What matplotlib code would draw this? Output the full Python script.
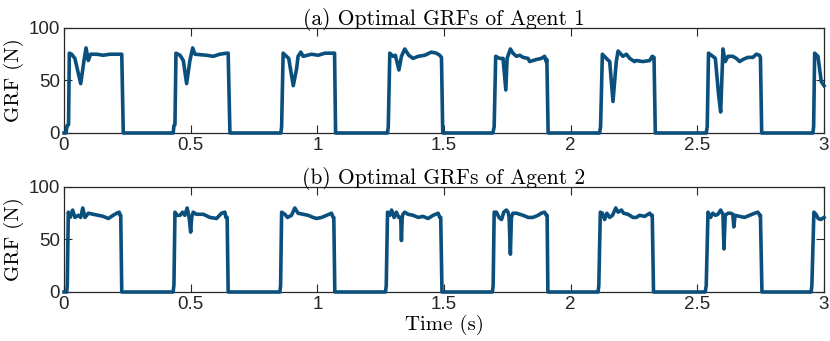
import matplotlib
matplotlib.use("Agg")
import matplotlib.pyplot as plt

# ---- data: (time [s], GRF [N]) breakpoints ----
t_agent1 = [
    0.000, 0.008, 0.012, 0.018, 0.021, 0.030, 0.043, 0.066, 0.079, 0.087, 0.096, 0.105,
    0.129, 0.155, 0.181, 0.221, 0.228, 0.234,
    0.431, 0.434, 0.438, 0.442, 0.458, 0.471, 0.484, 0.497, 0.508, 0.517, 0.563, 0.589,
    0.615, 0.642, 0.648, 0.655,
    0.856, 0.859, 0.865, 0.878, 0.887, 0.905, 0.918, 0.924, 0.935, 0.944, 0.977, 1.003,
    1.030, 1.062, 1.068, 1.072,
    1.277, 1.280, 1.286, 1.299, 1.308, 1.322, 1.332, 1.345, 1.361, 1.378, 1.398, 1.424,
    1.450, 1.470, 1.483, 1.490, 1.495,
    1.693, 1.698, 1.704, 1.720, 1.733, 1.744, 1.749, 1.762, 1.772, 1.786, 1.799, 1.812,
    1.832, 1.838, 1.865, 1.884, 1.897, 1.903, 1.906, 1.911,
    2.114, 2.118, 2.125, 2.141, 2.154, 2.167, 2.180, 2.187, 2.206, 2.220, 2.233, 2.252,
    2.259, 2.285, 2.312, 2.322, 2.329, 2.334,
    2.535, 2.539, 2.544, 2.561, 2.571, 2.584, 2.592, 2.601, 2.610, 2.621, 2.640, 2.654,
    2.667, 2.680, 2.699, 2.719, 2.733, 2.745, 2.749, 2.754,
    2.956, 2.959, 2.963, 2.976, 2.989, 3.000,
]
f_agent1 = [
    0, 0, 7, 8, 76, 75, 71, 47, 69, 81, 69, 75,
    75, 74, 75, 75, 75, 0,
    0, 7, 8, 76, 74, 69, 47, 69, 81, 75, 74, 73,
    75, 76, 76, 0,
    0, 6, 76, 73, 71, 45, 61, 73, 77, 73, 75, 74,
    76, 76, 76, 0,
    0, 6, 76, 73, 74, 60, 73, 80, 74, 71, 73, 74,
    77, 76, 74, 72, 0,
    0, 6, 73, 71, 71, 41, 71, 80, 76, 73, 74, 72,
    71, 68, 70, 71, 73, 68, 70, 0,
    0, 6, 75, 71, 68, 30, 68, 78, 73, 75, 71, 68,
    69, 68, 69, 73, 72, 0,
    0, 6, 76, 73, 71, 36, 20, 80, 68, 73, 73, 71,
    68, 70, 72, 72, 75, 74, 72, 0,
    0, 6, 76, 73, 49, 45,
]

t_agent2 = [
    0.000, 0.011, 0.013, 0.017, 0.024, 0.034, 0.043, 0.056, 0.066, 0.074, 0.083, 0.096,
    0.116, 0.135, 0.155, 0.175, 0.194, 0.208, 0.218, 0.221, 0.224, 0.228,
    0.431, 0.434, 0.438, 0.447, 0.458, 0.468, 0.477, 0.486, 0.494, 0.500, 0.504, 0.510,
    0.523, 0.550, 0.576, 0.602, 0.622, 0.635, 0.639, 0.644, 0.648,
    0.852, 0.855, 0.859, 0.872, 0.882, 0.898, 0.911, 0.924, 0.944, 0.964, 0.983, 0.997,
    1.017, 1.036, 1.056, 1.062, 1.065, 1.069,
    1.269, 1.272, 1.277, 1.286, 1.293, 1.303, 1.312, 1.321, 1.329, 1.332, 1.335, 1.338,
    1.345, 1.358, 1.378, 1.398, 1.417, 1.437, 1.457, 1.477, 1.483, 1.487, 1.492,
    1.691, 1.694, 1.698, 1.707, 1.717, 1.727, 1.736, 1.746, 1.753, 1.757, 1.762, 1.766,
    1.772, 1.786, 1.799, 1.812, 1.832, 1.851, 1.871, 1.884, 1.897, 1.904, 1.907, 1.910,
    2.108, 2.111, 2.117, 2.125, 2.134, 2.143, 2.154, 2.165, 2.178, 2.187, 2.200, 2.209,
    2.226, 2.246, 2.259, 2.272, 2.292, 2.312, 2.318, 2.322, 2.327,
    2.531, 2.535, 2.542, 2.552, 2.561, 2.571, 2.581, 2.592, 2.601, 2.605, 2.610, 2.621,
    2.631, 2.640, 2.644, 2.649, 2.667, 2.686, 2.706, 2.726, 2.739, 2.746, 2.749, 2.755,
    2.949, 2.952, 2.960, 2.968, 2.977, 2.987, 3.000,
]
f_agent2 = [
    0, 0, 7, 76, 71, 78, 71, 73, 71, 80, 71, 75,
    74, 73, 72, 70, 73, 75, 76, 73, 73, 0,
    0, 7, 76, 73, 73, 76, 73, 80, 71, 57, 71, 76,
    74, 74, 71, 70, 75, 76, 71, 71, 0,
    0, 6, 76, 74, 71, 73, 80, 75, 74, 73, 71, 70,
    71, 73, 75, 71, 71, 0,
    0, 6, 76, 73, 78, 71, 76, 71, 71, 49, 71, 74,
    76, 74, 73, 71, 72, 70, 73, 75, 71, 71, 0,
    0, 6, 76, 76, 71, 69, 76, 78, 76, 71, 36, 71,
    75, 75, 74, 73, 71, 71, 73, 75, 76, 73, 73, 0,
    0, 6, 76, 75, 69, 75, 71, 73, 80, 76, 78, 75,
    74, 71, 71, 73, 72, 75, 73, 73, 0,
    0, 6, 76, 71, 75, 73, 74, 78, 74, 41, 73, 75,
    75, 74, 62, 73, 72, 71, 73, 75, 76, 73, 73, 0,
    0, 6, 76, 74, 70, 69, 71,
]

titles = ["(a) Optimal GRFs of Agent 1", "(b) Optimal GRFs of Agent 2"]
xticks = [0, 0.5, 1, 1.5, 2, 2.5, 3]
xticklabels = ["0", "0.5", "1", "1.5", "2", "2.5", "3"]
yticks = [0, 50, 100]

LINE = "#0b4f7d"
SERIF = "cmr10"
SANS = "Liberation Sans"

fig = plt.figure(figsize=(8.3, 3.41), dpi=100)
ax1 = fig.add_axes([0.0771, 0.610, 0.9157, 0.308])
ax2 = fig.add_axes([0.0771, 0.1437, 0.9157, 0.308])

for ax, t, f, title in [(ax1, t_agent1, f_agent1, titles[0]),
                        (ax2, t_agent2, f_agent2, titles[1])]:
    ax.plot(t, f, color=LINE, lw=2.6, solid_joinstyle="round", clip_on=False, zorder=3)
    ax.set_xlim(0, 3)
    ax.set_ylim(0, 100)
    ax.set_xticks(xticks)
    ax.set_xticklabels(xticklabels)
    ax.set_yticks(yticks)
    ax.tick_params(direction="in", top=True, right=True, length=5.5, width=0.8,
                   colors="#262626", labelsize=13.5, pad=3)
    for lab in ax.get_xticklabels() + ax.get_yticklabels():
        lab.set_fontfamily(SANS)
    for s in ax.spines.values():
        s.set_color("#262626")
        s.set_linewidth(0.9)
    ax.set_title(title, fontfamily=SERIF, fontsize=15.5, pad=2)
    ax.set_ylabel("GRF (N)", fontfamily=SERIF, fontsize=15, labelpad=3)

ax2.set_xlabel("Time (s)", fontfamily=SERIF, fontsize=15, labelpad=1)

fig.savefig("out.png", dpi=100)
